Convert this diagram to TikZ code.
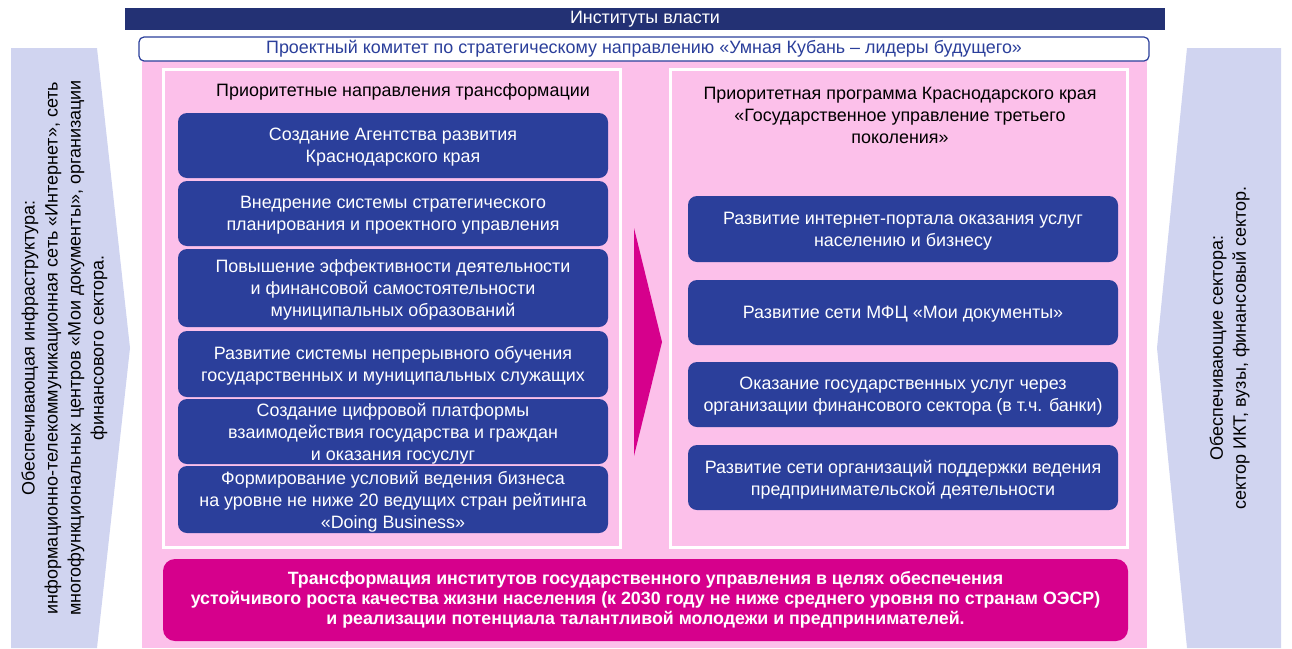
\documentclass[tikz,border=0pt]{standalone}
\usepackage{fontspec}
\setmainfont{Liberation Sans}
\usetikzlibrary{positioning, calc}

\definecolor{navy}{RGB}{35,49,116}
\definecolor{boxblue}{RGB}{43,63,155}
\definecolor{rose}{RGB}{252,192,234}
\definecolor{magent}{RGB}{214,0,140}
\definecolor{lavender}{RGB}{208,212,240}

\tikzset{
  txt/.style={font=\fontsize{17.9}{22}\selectfont},
  sidetxt/.style={font=\fontsize{18}{23}\selectfont, rotate=90, align=center},
  blok/.style={txt, fill=boxblue, text=white, rounded corners=9pt, minimum width=430pt, inner sep=0pt, align=center, text depth=0pt},
  panel/.style={draw=white, line width=3pt, fill=rose, minimum width=457pt, minimum height=478pt, inner sep=0pt},
}

\begin{document}
\begin{tikzpicture}[x=1pt, y=-1pt]
			\useasboundingbox (0,0) rectangle (1292,648);
			% side shapes
			\fill[lavender] (11,48) -- (97,48) -- (130,348) -- (97,648) -- (11,648) -- cycle;
			\fill[lavender] (1187,48) -- (1281,48) -- (1281,648) -- (1187,648) -- (1157,348) -- cycle;
			\node (infra) [sidetxt] at (64.5,348) {Обеспечивающая инфраструктура:\\информационно-телекоммуникационная сеть «Интернет», сеть\\многофункциональных центров «Мои документы», организации\\финансового сектора.};
			\node (sect) [sidetxt] at (1229.5,348) {Обеспечивающие сектора:\\сектор ИКТ, вузы, финансовый сектор.};
			
			% background and top bars
			\fill[rose] (142,55) rectangle (1147,648);
			\node (inst) [txt, fill=navy, text=white, minimum width=1040pt, minimum height=22pt, inner sep=0pt] at (645,19) {Институты власти};
			\node (kom) [txt, draw=boxblue, line width=1.2pt, fill=white, text=boxblue, rounded corners=5pt, minimum width=1010pt, minimum height=24pt, inner sep=0pt] at (644,49) {Проектный комитет по стратегическому направлению «Умная Кубань – лидеры будущего»};
			
			% panels
			\node (lp) [panel] at (391.5,308) {};
			\node (rp) [panel] at (898.5,308) {};
			\node (lhead) [txt, align=center] at (403,92) {Приоритетные направления трансформации};
			\node (rhead) [txt, align=center] at (900,115) {Приоритетная программа Краснодарского края\\«Государственное управление третьего\\поколения»};
			
			\node (l1) [blok, minimum height=65pt] at (393,145.5) {Создание Агентства развития\\Краснодарского края};
			\node (l2) [blok, minimum height=65pt] at (393,213.5) {Внедрение системы стратегического\\планирования и проектного управления};
			\node (l3) [blok, minimum height=78pt] at (393,288) {Повышение эффективности деятельности\\и финансовой самостоятельности\\муниципальных образований};
			\node (l4) [blok, minimum height=66pt] at (393,364) {Развитие системы непрерывного обучения\\государственных и муниципальных служащих};
			\node (l5) [blok, minimum height=65pt] at (393,431.5) {Создание цифровой платформы\\взаимодействия государства и граждан\\и оказания госуслуг};
			\node (l6) [blok, minimum height=67pt] at (393,499.5) {Формирование условий ведения бизнеса\\на уровне не ниже 20 ведущих стран рейтинга\\«Doing Business»};
			
			\node (r1) [blok, minimum height=66pt] at (903,229) {Развитие интернет-портала оказания услуг\\населению и бизнесу};
			\node (r2) [blok, minimum height=65pt] at (903,312.5) {Развитие сети МФЦ «Мои документы»};
			\node (r3) [blok, minimum height=65pt] at (903,394.5) {Оказание государственных услуг через\\организации финансового сектора (в т.ч. банки)};
			\node (r4) [blok, minimum height=65pt] at (903,477.5) {Развитие сети организаций поддержки ведения\\предпринимательской деятельности};
			
			% arrow between panels
			\fill[magent] (634,228) -- (662,342) -- (634,456) -- cycle;
			
			\node (goal) [fill=magent, text=white, rounded corners=12pt, minimum width=965pt, minimum height=82pt, inner sep=0pt, align=center, font=\bfseries\fontsize{17.8}{20}\selectfont] at (645.5,600) {Трансформация институтов государственного управления в целях обеспечения\\устойчивого роста качества жизни населения (к 2030 году не ниже среднего уровня по странам ОЭСР)\\и реализации потенциала талантливой молодежи и предпринимателей.};
		\end{tikzpicture}
\end{document}
